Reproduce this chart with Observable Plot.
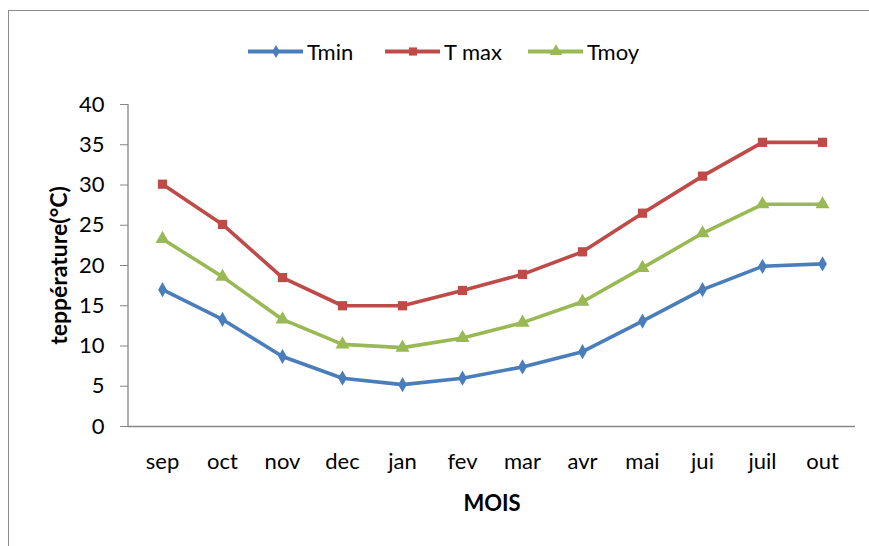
<!DOCTYPE html>
<html>
<head>
<meta charset="utf-8">
<script src="https://cdn.jsdelivr.net/npm/d3@7"></script>
<script src="https://cdn.jsdelivr.net/npm/@observablehq/plot@0.6"></script>
<style>
  body { margin: 0; background: #fff; overflow: hidden; font-family: Lato, "Open Sans", sans-serif; }
  #frame { position: absolute; left: 8px; top: 10px; width: 900px; height: 600px; border: 1.5px solid #8c8c8c; box-sizing: border-box; }
  #legend { position: absolute; left: 0; top: 37px; width: 900px; height: 28px; }
  #legend .item { position: absolute; top: 0; display: flex; align-items: center; font-size: 22px; color: #000; }
  #chart { position: absolute; left: 0; top: 0; }
  #chart svg g[aria-label="x-axis label"] text,
  #chart svg g[aria-label="y-axis label"] text { font-weight: bold; }
  #chart svg g[aria-label="y-axis label"] text { font-size: 23px; }
</style>
</head>
<body>
<div id="frame"></div>
<div id="legend"></div>
<div id="chart"></div>
<script>
// mois
const months = ["sep", "oct", "nov", "dec", "jan", "fev", "mar", "avr", "mai", "jui", "juil", "out"];

// températures (°C)
const tmin = [17.0, 13.3, 8.7, 6.0, 5.2, 6.0, 7.4, 9.3, 13.1, 17.0, 19.9, 20.2];
const tmax = [30.1, 25.1, 18.5, 15.0, 15.0, 16.9, 18.9, 21.7, 26.5, 31.1, 35.3, 35.3];
const tmoy = [23.3, 18.6, 13.3, 10.2, 9.8, 11.0, 12.9, 15.5, 19.7, 24.0, 27.6, 27.6];

const seriesNames = ["Tmin", "T max", "Tmoy"];
const seriesColors = ["#4a7ebb", "#be4b48", "#98b954"];
const seriesSymbols = ["diamond", "square", "triangle"];
const seriesR = [4.6, 5.2, 5.2];

const rows = [];
[tmin, tmax, tmoy].forEach((values, i) => {
    values.forEach((v, j) => {
        rows.push({ mois: months[j], temp: v, serie: seriesNames[i] });
    });
});

const chart = Plot.plot({
    width: 869,
    height: 546,
    marginLeft: 128,
    marginRight: 14,
    marginTop: 104,
    marginBottom: 120,
    style: { fontFamily: "Lato, 'Open Sans', sans-serif", fontSize: "22px", color: "#000", background: "transparent" },
    x: { type: "point", domain: months, padding: 0.5 },
    y: { domain: [0, 40] },
    marks: [
        Plot.axisY({
            ticks: d3.range(0, 41, 5),
            tickSize: 8,
            tickPadding: 16,
            stroke: "#868686",
            label: "teppérature(°C)",
            labelAnchor: "center",
            labelArrow: "none",
            labelOffset: 78,
            fontSize: 22,
        }),
        Plot.axisX({
            tickSize: 0,
            tickPadding: 27,
            label: "MOIS",
            labelAnchor: "center",
            labelArrow: "none",
            labelOffset: 84,
            fontSize: 22,
        }),
        Plot.ruleY([0], { stroke: "#868686", strokeWidth: 1.3 }),
        ...seriesNames.map((name, i) =>
            Plot.line(rows.filter((d) => d.serie === name), {
                x: "mois",
                y: "temp",
                stroke: seriesColors[i],
                strokeWidth: 3.6,
            })
        ),
        ...seriesNames.map((name, i) =>
            Plot.dot(rows.filter((d) => d.serie === name), {
                x: "mois",
                y: "temp",
                fill: seriesColors[i],
                symbol: seriesSymbols[i],
                r: seriesR[i],
            })
        ),
    ],
});
document.querySelector("#chart").append(chart);

// y axis line (left edge of plot area)
const svg = d3.select(chart);
svg.append("line")
    .attr("x1", 128).attr("x2", 128)
    .attr("y1", 104).attr("y2", 426)
    .attr("stroke", "#868686").attr("stroke-width", 1.3);

// légende
const legendX = [248, 385, 528];
const legend = document.querySelector("#legend");
seriesNames.forEach((name, i) => {
    const item = document.createElement("div");
    item.className = "item";
    item.style.left = legendX[i] + "px";
    const sw = Plot.plot({
        width: 55, height: 28, margin: 0,
        x: { domain: [0, 1] }, y: { domain: [0, 1] },
        axis: null,
        style: { background: "transparent" },
        marks: [
            Plot.ruleY([0.5], { stroke: seriesColors[i], strokeWidth: 4 }),
            Plot.dot([[0.5, 0.5]], { fill: seriesColors[i], symbol: seriesSymbols[i], r: seriesR[i] - 0.6 }),
        ],
    });
    item.append(sw);
    const label = document.createElement("span");
    label.textContent = name;
    label.style.marginLeft = "4px";
    item.append(label);
    legend.append(item);
});
</script>
</body>
</html>
